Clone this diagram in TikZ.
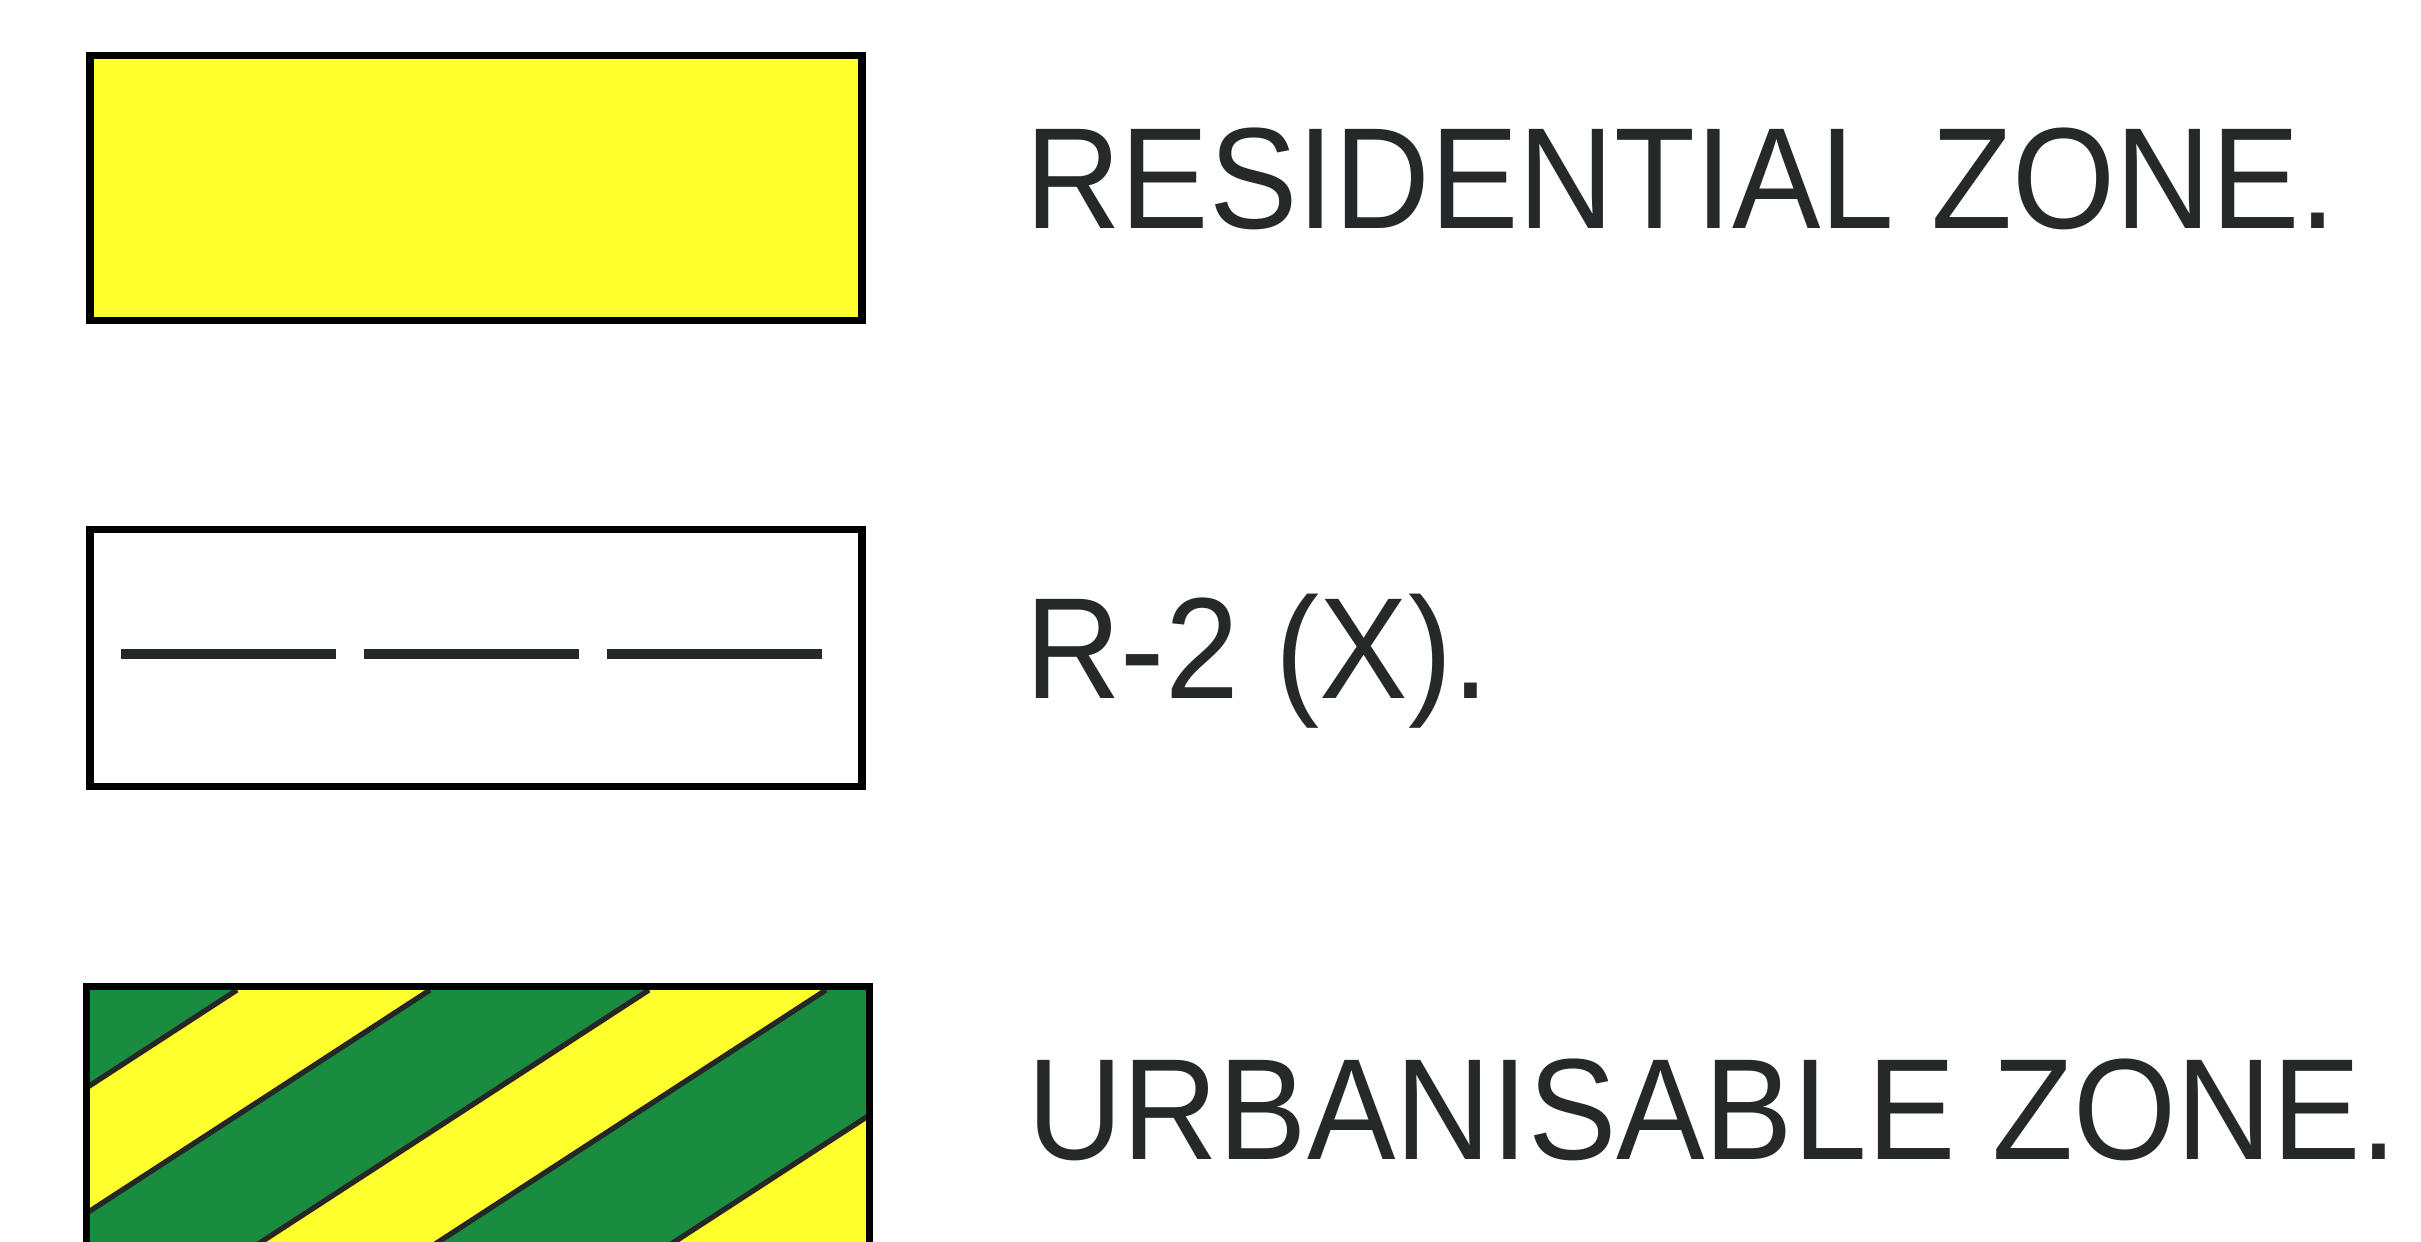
\documentclass[tikz,border=0pt]{standalone}
\usepackage{fontspec}
\setmainfont[FakeStretch=0.92]{Liberation Sans}
\usetikzlibrary{calc,positioning}
\definecolor{ZoneYellow}{HTML}{FFFF2E}
\definecolor{ZoneGreen}{HTML}{198C40}
\definecolor{Ink}{HTML}{25292A}

\begin{document}
\begin{tikzpicture}[zonebox/.style={draw=black,line width=2pt,inner sep=0pt,minimum width=7.72cm},
  zonelabel/.style={anchor=base west,inner sep=0pt,text=Ink,font=\fontsize{41}{49}\selectfont}]
\useasboundingbox (0,0) rectangle (24.21,12.42);
\clip (0,0) rectangle (24.21,12.42);
\node[zonebox,fill=ZoneYellow,minimum height=2.65cm] (res) at (4.76,10.535) {};
\node[zonebox,fill=white,minimum height=2.57cm] (rx) at (4.76,5.835) {};
\node[zonebox,draw=none,minimum width=7.76cm,minimum height=2.62cm] (urb) at (4.78,1.21) {};
% hatched urbanisable box
\begin{scope}
\clip (urb.south west) rectangle (urb.north east);
\fill[ZoneGreen] (urb.south west) rectangle (urb.north east);
\foreach \a/\b in {2.37/4.30,6.49/8.26,10.62/12.62}
  \fill[ZoneYellow] (\a,2.52) -- (\b,2.52) -- ++(-4.185,-2.72) -- ($(\a,2.52)+(-4.185,-2.72)$) -- cycle;
\foreach \a in {2.37,4.30,6.49,8.26,10.62}
  \draw[line width=1.5pt,black!85] (\a,2.52) -- ++(-4.185,-2.72);
\end{scope}
\draw[line width=2pt] (urb.south west) rectangle (urb.north east);
% R-2 line
\coordinate (rxa) at ($(rx.west)+(0.35,0.045)$);
\coordinate (rxb) at ($(rx.east)+(-0.36,0.045)$);
\draw[line width=2.6pt,Ink,dash pattern=on 2.15cm off 0.28cm] (rxa) -- (rxb);
\node[zonelabel] (resl) at ([shift={(1.59,-0.4)}]res.east) {RESIDENTIAL ZONE.};
\node[zonelabel] (rxl) at ([shift={(1.59,-0.4)}]rx.east) {R-2 (X).};
\node[zonelabel] (urbl) at ([shift={(1.57,-0.39)}]urb.east) {URBANISABLE ZONE.};
\end{tikzpicture}
\end{document}
